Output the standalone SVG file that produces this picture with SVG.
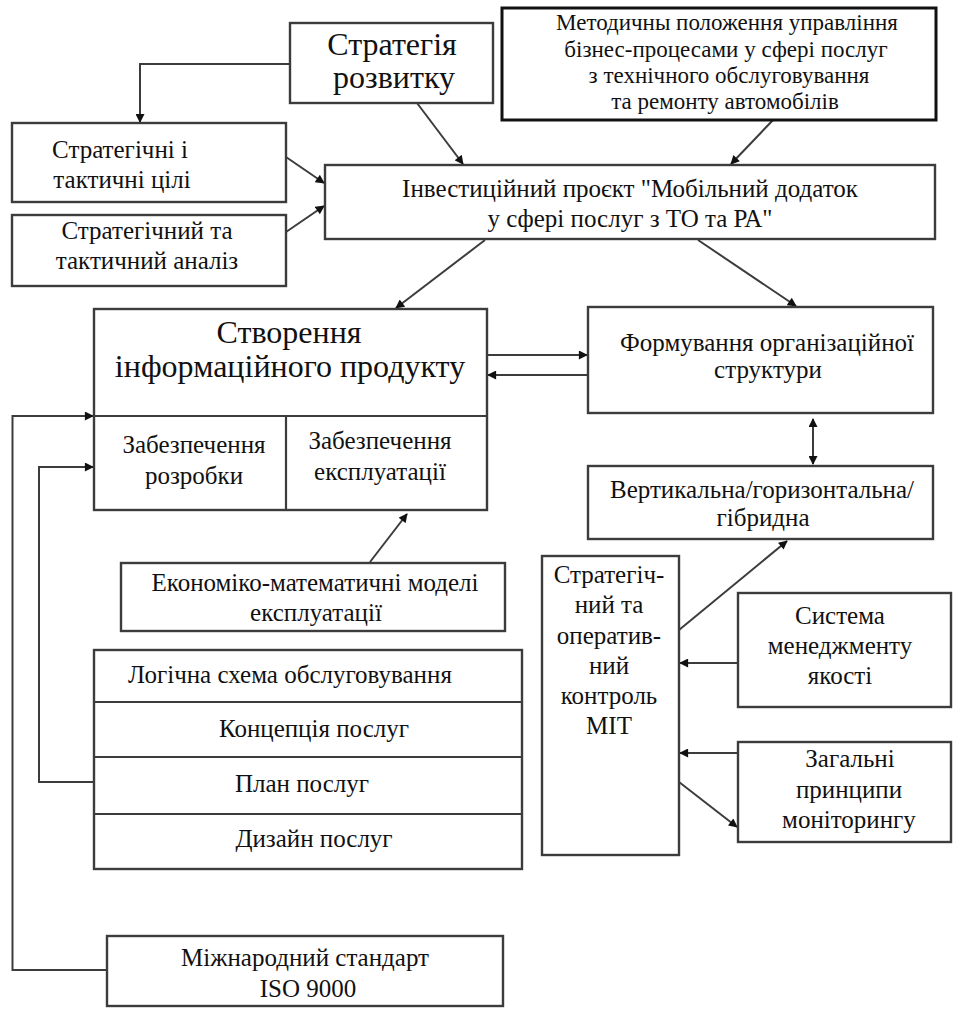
<svg xmlns="http://www.w3.org/2000/svg" width="953" height="1009" viewBox="0 0 953 1009">
<defs>
<marker id="ah" viewBox="0 0 10 10" refX="9" refY="5" markerWidth="10" markerHeight="9" markerUnits="userSpaceOnUse" orient="auto-start-reverse">
<path d="M0,0 L10,5 L0,10 Z" fill="#111"/>
</marker>
<style>
.box{fill:#fff;stroke:#3c3c3c;stroke-width:2.4}
.thick{fill:#fff;stroke:#111;stroke-width:3}
.t{font-family:'Liberation Serif','DejaVu Serif','Times New Roman',serif;font-size:25px;fill:#111;text-anchor:middle}
.s{font-size:23px}
.b{font-size:32px}
.ln{fill:none;stroke:#3c3c3c;stroke-width:2.2}
.ar{fill:none;stroke:#3c3c3c;stroke-width:2;marker-end:url(#ah)}
.ar2{fill:none;stroke:#3c3c3c;stroke-width:2;marker-end:url(#ah);marker-start:url(#ah)}
</style>
</defs>
<rect width="953" height="1009" fill="#fff"/>
<g id="connectors">
<path class="ar" d="M290,64 H140 V122"/>
<path class="ar" d="M417,103 L463,164"/>
<path class="ar" d="M773,120 L731,164"/>
<path class="ar" d="M286,157 L324,183"/>
<path class="ar" d="M286,232 L324,206"/>
<path class="ar" d="M485,240 L396,308"/>
<path class="ar" d="M698,240 L796,306"/>
<path class="ar" d="M487,355 L587,355"/>
<path class="ar" d="M588,375 L488,375"/>
<path class="ar2" d="M813,419 L813,464"/>
<path class="ar" d="M370,562 L407,514"/>
<path class="ar" d="M679,630 L787,541"/>
<path class="ar" d="M738,663 L680,663"/>
<path class="ar" d="M738,753 L680,753"/>
<path class="ar" d="M679,782 L737,827"/>
<path class="ar" d="M107,970 H12.5 V416 H93"/>
<path class="ar" d="M94,782 H39 V467 H93"/>
</g>
<g font-family="Liberation Serif, DejaVu Serif, serif">
<g id="strategy">
<rect class="box" x="290" y="23" width="203" height="80"/>
<text class="t b" x="392" y="55">Стратегія</text>
<text class="t b" x="394" y="88">розвитку</text>
</g>
<g id="methodical">
<rect class="thick" x="502" y="8" width="434" height="112"/>
<text class="t s" x="727" y="30">Методичны положення управління</text>
<text class="t s" x="726" y="57">бізнес-процесами у сфері послуг</text>
<text class="t s" x="729" y="83">з технічного обслуговування</text>
<text class="t s" x="725" y="109">та ремонту автомобілів</text>
</g>
<g id="investment">
<rect class="box" x="325" y="165" width="610" height="74"/>
<text class="t" x="630" y="197">Інвестиційний проєкт "Мобільний додаток</text>
<text class="t" x="630" y="227">у сфері послуг з ТО та РА"</text>
</g>
<g id="goals">
<rect class="box" x="12" y="123" width="274" height="79"/>
<text class="t" x="120" y="158">Стратегічні і</text>
<text class="t" x="122" y="188">тактичні цілі</text>
</g>
<g id="analysis">
<rect class="box" x="12" y="215" width="274" height="71"/>
<text class="t" x="147" y="239">Стратегічний та</text>
<text class="t" x="147" y="269">тактичний аналіз</text>
</g>
<g id="creation">
<rect class="box" x="94" y="309" width="393" height="201"/>
<path class="ln" d="M94,416 H487 M286,416 V510"/>
<text class="t b" x="289" y="343">Створення</text>
<text class="t b" x="290" y="377">інформаційного продукту</text>
<text class="t" x="194" y="453">Забезпечення</text>
<text class="t" x="194" y="484">розробки</text>
<text class="t" x="380" y="449">Забезпечення</text>
<text class="t" x="380" y="480">експлуатації</text>
</g>
<g id="formation">
<rect class="box" x="588" y="307" width="345" height="106"/>
<text class="t" x="767" y="351">Формування організаційної</text>
<text class="t" x="768" y="378">структури</text>
</g>
<g id="vertical">
<rect class="box" x="588" y="466" width="345" height="73"/>
<text class="t" x="762" y="498">Вертикальна/горизонтальна/</text>
<text class="t" x="763" y="526">гібридна</text>
</g>
<g id="economic">
<rect class="box" x="121" y="563" width="384" height="68"/>
<text class="t" x="315" y="591">Економіко-математичні моделі</text>
<text class="t" x="316" y="621">експлуатації</text>
</g>
<g id="control">
<rect class="box" x="542" y="556" width="137" height="299"/>
<text class="t" x="609" y="583">Стратегіч-</text>
<text class="t" x="609" y="613">ний та</text>
<text class="t" x="609" y="644">оператив-</text>
<text class="t" x="609" y="674">ний</text>
<text class="t" x="609" y="704">контроль</text>
<text class="t" x="609" y="734">МІТ</text>
</g>
<g id="quality">
<rect class="box" x="738" y="593" width="213" height="114"/>
<text class="t" x="840" y="624">Система</text>
<text class="t" x="840" y="654">менеджменту</text>
<text class="t" x="840" y="684">якості</text>
</g>
<g id="monitoring">
<rect class="box" x="738" y="742" width="213" height="100"/>
<text class="t" x="850" y="767">Загальні</text>
<text class="t" x="849" y="798">принципи</text>
<text class="t" x="849" y="828">моніторингу</text>
</g>
<g id="services">
<rect class="box" x="94" y="650" width="428" height="219"/>
<path class="ln" d="M94,702 H522 M94,757 H522 M94,814 H522"/>
<text class="t" x="290" y="683">Логічна схема обслуговування</text>
<text class="t" x="314" y="737">Концепція послуг</text>
<text class="t" x="302" y="792">План послуг</text>
<text class="t" x="314" y="847">Дизайн послуг</text>
</g>
<g id="iso">
<rect class="box" x="107" y="936" width="396" height="70"/>
<text class="t" x="305" y="966">Міжнародний стандарт</text>
<text class="t" x="308" y="997">ISO 9000</text>
</g>
</g>
</svg>
